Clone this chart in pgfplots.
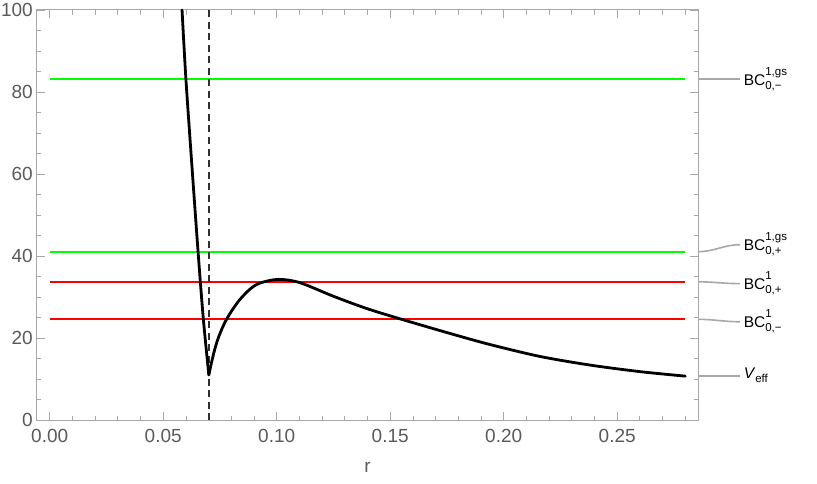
\documentclass[border=0pt]{standalone}
\usepackage{fontspec}
\setmainfont{Liberation Sans}
\usepackage{pgfplots}
\pgfplotsset{compat=1.18}

\definecolor{framegray}{HTML}{A8A8A8}
\definecolor{labgray}{HTML}{5A5A5A}
\definecolor{callgray}{HTML}{A8A8A8}
\definecolor{mgreen}{HTML}{00FF00}
\definecolor{mred}{HTML}{FF0000}
\definecolor{dashgray}{HTML}{303030}

\newcommand\scr{\fontsize{11.5}{11.5}\selectfont}
\newcommand\bc[2]{BC\rlap{\raisebox{-4pt}{\scr #1}}\raisebox{10pt}{\scr #2}}
\newcommand\lab{\fontsize{15.5}{15.5}\selectfont}

\begin{document}
\begin{tikzpicture}
\begin{axis}[
  at={(0,0)}, anchor=south west,
  width=661pt, height=410pt, scale only axis,
  xmin=-0.0056, xmax=0.2856, ymin=0, ymax=100,
  clip=false,
  axis line style={framegray, line width=1pt},
  xtick={0,0.05,0.1,0.15,0.2,0.25},
  minor xtick={0.01,0.02,0.03,0.04,0.06,0.07,0.08,0.09,0.11,0.12,0.13,0.14,0.16,0.17,0.18,0.19,0.21,0.22,0.23,0.24,0.26,0.27,0.28},
  ytick={0,20,40,60,80,100},
  minor ytick={5,10,15,25,30,35,45,50,55,65,70,75,85,90,95},
  tick align=inside, major tick length=8pt, minor tick length=4.5pt,
  tick style={framegray, line width=0.8pt},
  tick label style={font=\fontsize{19}{19}\selectfont, text=labgray, inner sep=0pt},
  /pgf/number format/assume math mode=true,
  xticklabel style={anchor=north, yshift=-9pt,
    /pgf/number format/.cd, fixed, fixed zerofill, precision=2},
  yticklabel style={anchor=east, xshift=-4pt},
  xlabel={r},
  xlabel style={at={(axis description cs:0.5,0)}, anchor=north, yshift=-42pt,
    inner sep=0pt, font=\fontsize{19}{19}\selectfont, text=labgray},
]

% horizontal levels
\addplot[mgreen, line width=2.3pt] coordinates {(0,83.2) (0.28,83.2)};
\addplot[mgreen, line width=2.3pt] coordinates {(0,41.05) (0.28,41.05)};
\addplot[mred, line width=2.3pt] coordinates {(0,33.7) (0.28,33.7)};
\addplot[mred, line width=2.3pt] coordinates {(0,24.55) (0.28,24.55)};

% vertical dashed line at r = 0.07
\addplot[dashgray, line width=1.8pt, dash pattern=on 7pt off 4.5pt] coordinates {(0.07,0) (0.07,100)};

% effective potential, two branches meeting at the cusp
\addplot[black, line width=2.8pt, smooth, line cap=round] coordinates {
  (0.0583,100) (0.0600,83.2) (0.0629,60) (0.0655,40) (0.0677,24.5) (0.0701,11)
};
\addplot[black, line width=2.8pt, smooth, line cap=round] coordinates {
  (0.0701,11) (0.0712,13.8) (0.0725,16.8) (0.0740,19.6) (0.0760,22.4)
  (0.0779,24.55) (0.0805,26.9) (0.0838,29.4) (0.0882,31.9) (0.0926,33.4)
  (0.1007,34.3) (0.1102,33.5) (0.1249,30.2) (0.1396,27.2) (0.1551,24.55)
  (0.1764,21.1) (0.194,18.4) (0.216,15.5) (0.238,13.4) (0.260,11.8) (0.28,10.7)
};

% callouts
\draw[callgray, line width=1.6pt] (axis cs:0.2856,83.2) -- ++(42pt,0pt)
  node[anchor=west, inner sep=0pt, xshift=3pt, text=black, font=\lab] {\bc{0,−}{1,gs}};
\draw[callgray, line width=1.6pt] (axis cs:0.2856,41.05) to[out=0,in=180] ++(42pt,7pt)
  node[anchor=west, inner sep=0pt, xshift=3pt, text=black, font=\lab] {\bc{0,+}{1,gs}};
\draw[callgray, line width=1.6pt] (axis cs:0.2856,33.7) to[out=0,in=180] ++(42pt,-1.8pt)
  node[anchor=west, inner sep=0pt, xshift=3pt, text=black, font=\lab] {\bc{0,+}{1}};
\draw[callgray, line width=1.6pt] (axis cs:0.2856,24.55) to[out=0,in=180] ++(42pt,-2.4pt)
  node[anchor=west, inner sep=0pt, xshift=3pt, text=black, font=\lab] {\bc{0,−}{1}};
\draw[callgray, line width=1.6pt] (axis cs:0.2856,10.8) -- ++(42pt,0pt)
  node[anchor=west, inner sep=0pt, xshift=3pt, text=black, font=\lab] {\textit{V}\raisebox{-4pt}{\scr eff}};
\end{axis}
\path (-37pt,-63pt) rectangle (780pt,420pt);
\end{tikzpicture}
\end{document}
